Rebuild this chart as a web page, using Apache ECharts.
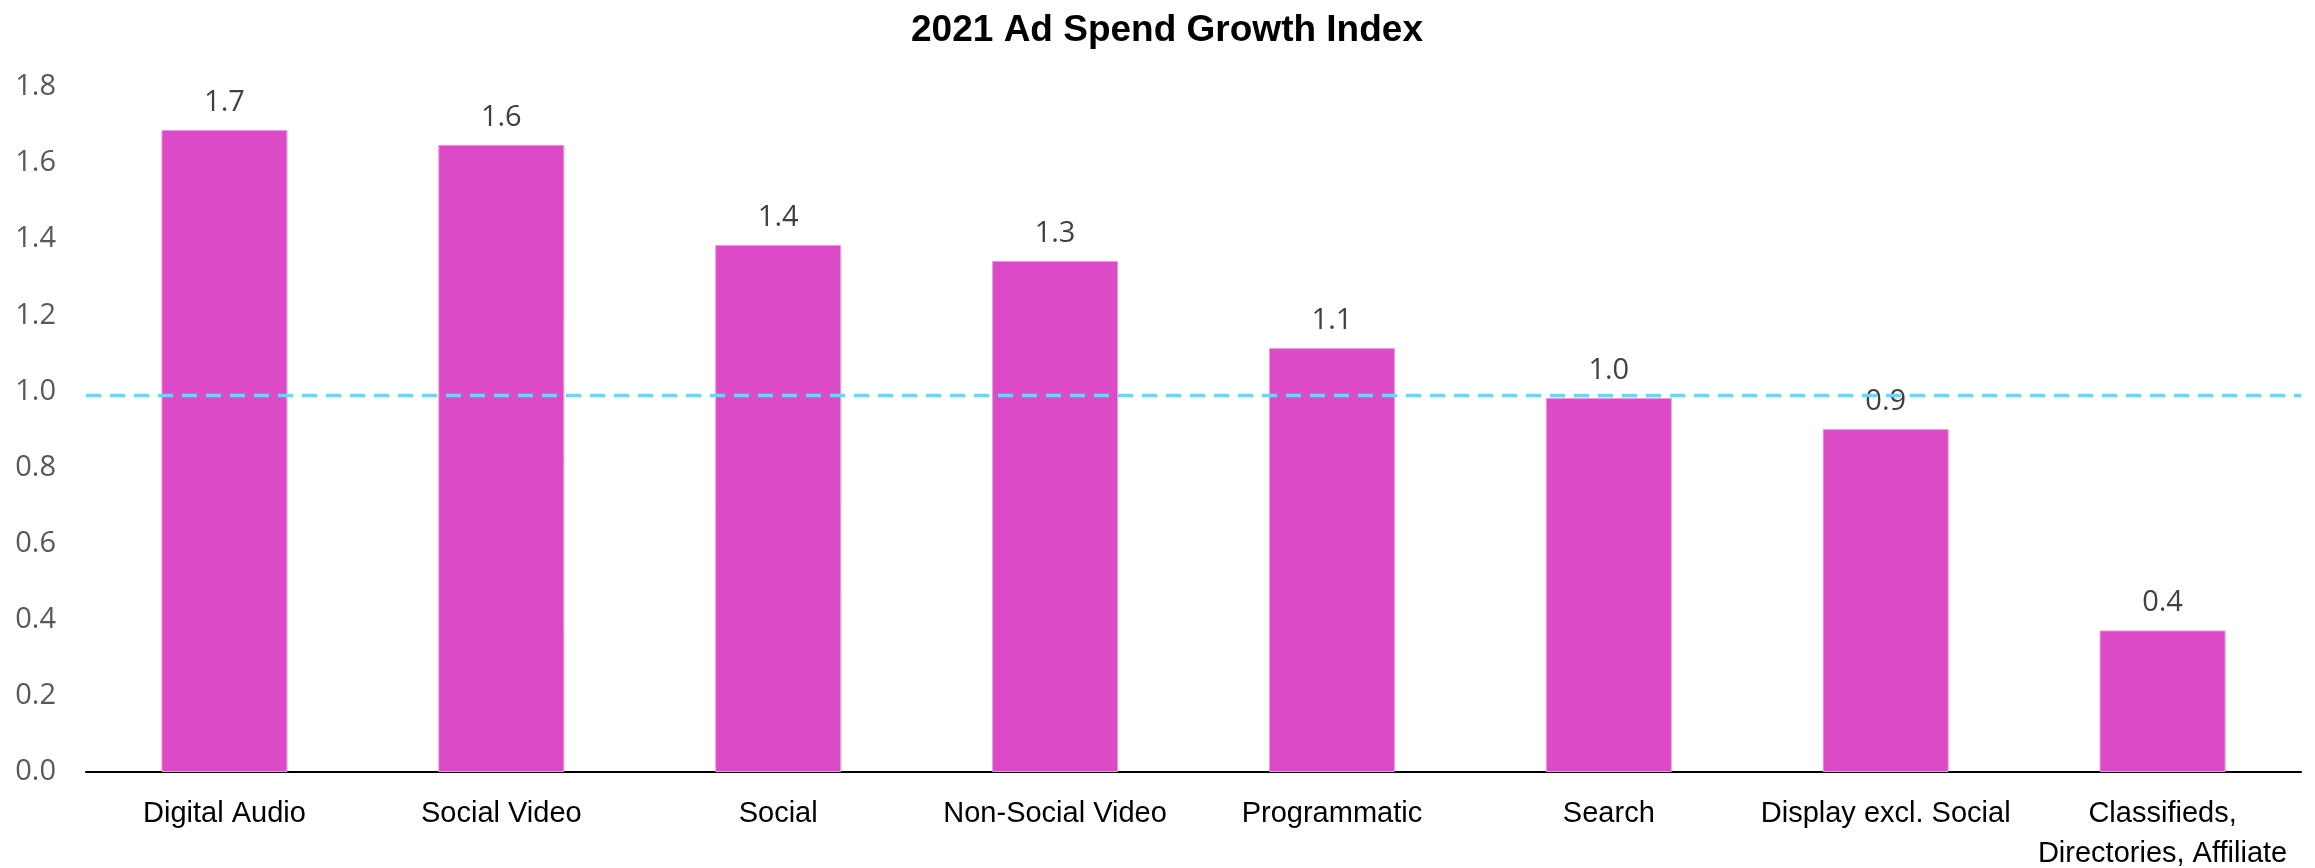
<!DOCTYPE html>
<html>
<head>
<meta charset="utf-8">
<script src="https://cdn.jsdelivr.net/npm/echarts@6/dist/echarts.min.js"></script>
<style>
  html, body { margin: 0; padding: 0; background: #ffffff; }
  #chart { width: 2315px; height: 868px; }
</style>
</head>
<body>
<div id="chart"></div>
<script>
// Ad spend growth index by channel
const chartTitle = '2021 Ad Spend Growth Index';
const categories = [
  'Digital Audio',
  'Social Video',
  'Social',
  'Non-Social Video',
  'Programmatic',
  'Search',
  'Display excl. Social',
  'Classifieds,\nDirectories, Affiliate'
];
const growthIndex = [1.687, 1.648, 1.385, 1.343, 1.114, 0.983, 0.901, 0.372];
const referenceLevel = 0.988;
const yTicks = { min: 0, max: 1.8, interval: 0.2 };

const numberFont = '"Open Sans", "DejaVu Sans", sans-serif';
const textFont = '"Liberation Sans", Arial, sans-serif';

const chart = echarts.init(document.getElementById('chart'), null, { renderer: 'canvas' });

chart.setOption({
  backgroundColor: '#ffffff',
  animation: false,
  title: {
    text: chartTitle,
    left: 1162,
    textAlign: 'center',
    top: 7,
    textStyle: {
      fontFamily: textFont,
      fontWeight: 'bold',
      fontSize: 37,
      color: '#000000'
    }
  },
  grid: {
    left: 86,
    right: 14,
    top: 87,
    bottom: 96,
    containLabel: false,
    outerBoundsMode: 'none'
  },
  xAxis: {
    type: 'category',
    data: categories,
    axisLine: { show: true, lineStyle: { color: '#000000', width: 2 } },
    axisTick: { show: false },
    axisLabel: {
      color: '#000000',
      fontFamily: textFont,
      fontSize: 29,
      lineHeight: 40,
      margin: 22,
      interval: 0
    }
  },
  yAxis: {
    type: 'value',
    min: yTicks.min,
    max: yTicks.max,
    interval: yTicks.interval,
    splitLine: { show: false },
    axisLine: { show: false },
    axisTick: { show: false },
    axisLabel: {
      color: '#595959',
      fontFamily: numberFont,
      fontSize: 29,
      margin: 30,
      formatter: v => v.toFixed(1)
    }
  },
  series: [{
    type: 'bar',
    data: growthIndex,
    barCategoryGap: '54.5%',
    itemStyle: {
      color: '#dd4ac7',
      borderColor: '#ec9ae0',
      borderWidth: 1
    },
    label: {
      show: true,
      position: 'top',
      distance: 13,
      color: '#404040',
      fontFamily: numberFont,
      fontSize: 29,
      formatter: p => p.value.toFixed(1)
    },
    markLine: {
      silent: true,
      symbol: ['none', 'none'],
      label: { show: false },
      lineStyle: { color: '#6fd4fb', type: [15, 9], width: 3.3 },
      data: [{ yAxis: referenceLevel }],
      z: 10
    }
  }]
});
</script>
</body>
</html>
